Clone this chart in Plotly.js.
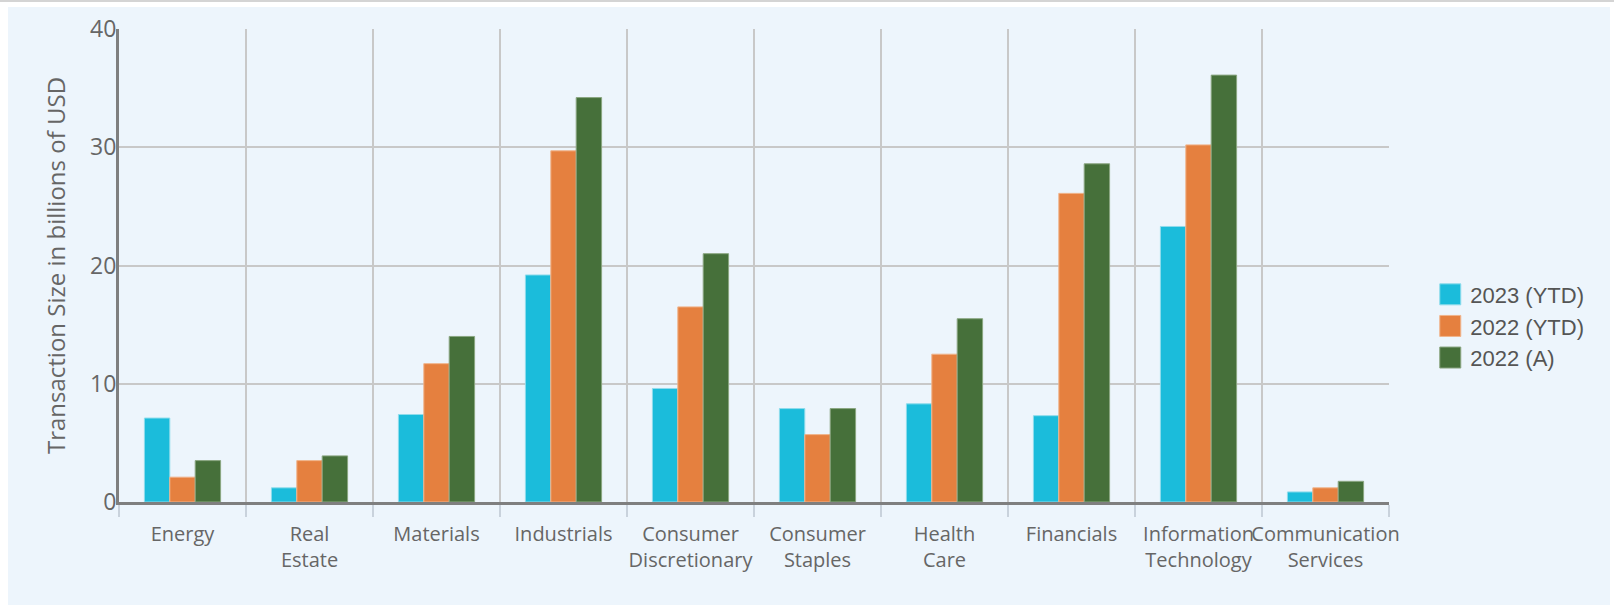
<!DOCTYPE html>
<html>
<head>
<meta charset="utf-8">
<script src="https://cdn.plot.ly/plotly-3.0.1.min.js"></script>
<style>
  html, body { margin: 0; padding: 0; background: #ffffff; width: 1614px; height: 605px; overflow: hidden; }
  #topline { position: absolute; left: 0; top: 0; width: 1614px; height: 2px; background: #d4d4d4; }
  #chart { position: absolute; left: 8px; top: 7px; width: 1602px; height: 598px; }
</style>
</head>
<body>
<div id="topline"></div>
<div id="chart"></div>
<script>
const categories = ["Energy", "Real<br>Estate", "Materials", "Industrials", "Consumer<br>Discretionary",
  "Consumer<br>Staples", "Health<br>Care", "Financials", "Information<br>Technology", "Communication<br>Services"];
const seriesNames = ["2023 (YTD)", "2022 (YTD)", "2022 (A)"];
const values2023YTD = [7.1, 1.2, 7.4, 19.2, 9.6, 7.9, 8.3, 7.3, 23.3, 0.85];
const values2022YTD = [2.1, 3.5, 11.7, 29.7, 16.5, 5.7, 12.5, 26.1, 30.2, 1.2];
const values2022A   = [3.5, 3.9, 14.0, 34.2, 21.0, 7.9, 15.5, 28.6, 36.1, 1.75];
const yTicks = [0, 10, 20, 30, 40];

const colors = ["#1bbcdb", "#e5803f", "#46703a"];
const lineColors = ["#8fdcec", "#f0b48c", "#8aa681"];
const allValues = [values2023YTD, values2022YTD, values2022A];

const traces = allValues.map((v, i) => ({
  type: "bar",
  name: seriesNames[i],
  x: categories,
  y: v,
  marker: { color: colors[i], line: { color: lineColors[i], width: 1 } },
  hoverinfo: "x+y+name"
}));

const layout = {
  width: 1602,
  height: 598,
  paper_bgcolor: "#edf5fc",
  plot_bgcolor: "#edf5fc",
  margin: { l: 111, r: 221, t: 22, b: 103, pad: 0 },
  barmode: "group",
  bargap: 0.4,
  bargroupgap: 0,
  font: { family: "Open Sans, sans-serif", color: "#666666" },
  xaxis: {
    type: "category",
    tickson: "boundaries",
    tickangle: 0,
    ticks: "outside",
    ticklen: 12,
    tickwidth: 2,
    tickcolor: "#c9d2dc",
    ticklabelstandoff: 12,
    showgrid: true,
    gridcolor: "#c8c8c8",
    gridwidth: 2,
    showline: true,
    linecolor: "#7f7f7f",
    linewidth: 3,
    tickfont: { size: 20, color: "#666666", family: "Open Sans, sans-serif" },
    fixedrange: true
  },
  yaxis: {
    range: [0, 40],
    tickvals: yTicks,
    ticktext: yTicks.map(String),
    showgrid: true,
    gridcolor: "#c8c8c8",
    gridwidth: 2,
    zeroline: false,
    showline: true,
    linecolor: "#7f7f7f",
    linewidth: 3,
    ticks: "",
    ticklabelstandoff: -5,
    tickfont: { size: 23, color: "#666666", family: "Open Sans, sans-serif" },
    title: { text: "Transaction Size in billions of USD", font: { size: 24, color: "#666666", family: "Open Sans, sans-serif" }, standoff: 18 },
    fixedrange: true
  },
  showlegend: true,
  legend: {
    x: 1.0325, xanchor: "left",
    y: 0.372, yanchor: "middle",
    bgcolor: "rgba(0,0,0,0)",
    font: { size: 22, color: "#555555", family: "Liberation Sans, Arial, sans-serif" },
    tracegroupgap: 0
  }
};

Plotly.newPlot("chart", traces, layout, { displayModeBar: false }).then(gd => {
  gd.querySelectorAll(".legendpoints path").forEach(p => {
    p.setAttribute("d", "M10.5,10.5H-10.5V-10.5H10.5Z");
  });
});
</script>
</body>
</html>
